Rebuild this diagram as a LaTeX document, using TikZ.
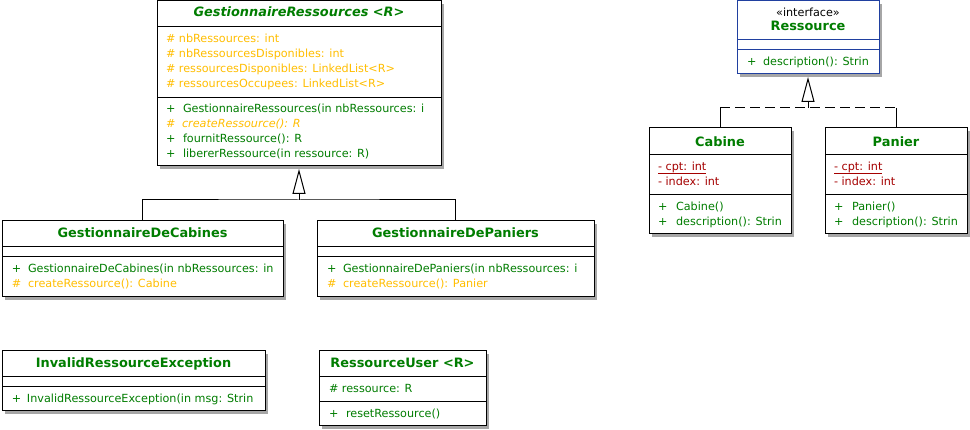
\documentclass[tikz,border=0pt]{standalone}
\usepackage{fontspec}
\setmainfont{DejaVu Sans}
\usetikzlibrary{arrows.meta,shadows}
\definecolor{umlgreen}{RGB}{0,125,0}
\definecolor{umlorange}{RGB}{255,190,0}
\definecolor{umlred}{RGB}{165,0,0}
\definecolor{umlblue}{RGB}{32,64,160}
\newcommand{\umlbodyfont}{\fontsize{11.2}{13}\selectfont}
\newcommand{\umltitlefont}{\fontsize{12.9}{15}\selectfont\bfseries}
\begin{document}
\begin{tikzpicture}[x=1pt,y=-1pt,
  umlbox/.style={draw=black, line width=1pt, fill=white, inner sep=0pt, outer sep=0pt,
    drop shadow={shadow xshift=3pt, shadow yshift=-3pt, fill=black!35, opacity=1}},
  txt/.style={anchor=base west, inner sep=0pt, outer sep=0pt, font=\umlbodyfont},
  ttl/.style={anchor=base, inner sep=0pt, outer sep=0pt, font=\umltitlefont, text=umlgreen},
  pub/.style={txt, text=umlgreen},
  prot/.style={txt, text=umlorange},
  priv/.style={txt, text=umlred},
  sepline/.style={line width=1pt},
  conn/.style={line width=1pt},
  gentip/.style={-{Triangle[open, length=25pt, width=13pt, line width=1pt]}, shorten >=3pt},
]
\useasboundingbox (0,0) rectangle (970,430);

% ---------- boxes ----------
\node[umlbox, minimum width=284pt, minimum height=165pt] (gr) at (299,83.5) {};
\node[umlbox, minimum width=281pt, minimum height=76pt] (gdc) at (142.5,259) {};
\node[umlbox, minimum width=277pt, minimum height=76pt] (gdp) at (455.5,259) {};
\node[umlbox, draw=umlblue, minimum width=142pt, minimum height=73pt] (res) at (808,37.5) {};
\node[umlbox, minimum width=142pt, minimum height=106pt] (cab) at (720,181) {};
\node[umlbox, minimum width=142pt, minimum height=106pt] (pan) at (896,181) {};
\node[umlbox, minimum width=263pt, minimum height=60pt] (ire) at (133.5,381) {};
\node[umlbox, minimum width=167pt, minimum height=75pt] (ru) at (402.5,388.5) {};

% ---------- compartments ----------
\draw[sepline] (gr.west |- 0,27) -- (gr.east |- 0,27);
\draw[sepline] (gr.west |- 0,98) -- (gr.east |- 0,98);
\draw[sepline] (gdc.west |- 0,247) -- (gdc.east |- 0,247);
\draw[sepline] (gdc.west |- 0,257) -- (gdc.east |- 0,257);
\draw[sepline] (gdp.west |- 0,247) -- (gdp.east |- 0,247);
\draw[sepline] (gdp.west |- 0,257) -- (gdp.east |- 0,257);
\draw[sepline, umlblue] (res.west |- 0,40) -- (res.east |- 0,40);
\draw[sepline, umlblue] (res.west |- 0,50) -- (res.east |- 0,50);
\draw[sepline] (cab.west |- 0,155) -- (cab.east |- 0,155);
\draw[sepline] (cab.west |- 0,195) -- (cab.east |- 0,195);
\draw[sepline] (pan.west |- 0,155) -- (pan.east |- 0,155);
\draw[sepline] (pan.west |- 0,195) -- (pan.east |- 0,195);
\draw[sepline] (ire.west |- 0,377) -- (ire.east |- 0,377);
\draw[sepline] (ire.west |- 0,387) -- (ire.east |- 0,387);
\draw[sepline] (ru.west |- 0,377) -- (ru.east |- 0,377);
\draw[sepline] (ru.west |- 0,402) -- (ru.east |- 0,402);

% ---------- GestionnaireRessources ----------
\node[ttl, font=\umltitlefont\itshape] (grt) at (299,17) {GestionnaireRessources <R>};
\node[prot] (gra1) at (166,43) {\# nbRessources: int};
\node[prot] (gra2) at (166,58) {\# nbRessourcesDisponibles: int};
\node[prot] (gra3) at (166,73) {\# ressourcesDisponibles: LinkedList<R>};
\node[prot] (gra4) at (166,88) {\# ressourcesOccupees: LinkedList<R>};
\node[pub] (grm1v) at (166,113) {+};
\node[pub] (grm1) at (183,113) {GestionnaireRessources(in nbRessources: i};
\node[prot] (grm2v) at (166,128) {\#};
\node[prot, font=\umlbodyfont\itshape] (grm2) at (182,128) {createRessource(): R};
\node[pub] (grm3v) at (166,143) {+};
\node[pub] (grm3) at (183,143) {fournitRessource(): R};
\node[pub] (grm4v) at (166,158) {+};
\node[pub] (grm4) at (183,158) {libererRessource(in ressource: R)};

% ---------- GestionnaireDeCabines ----------
\node[ttl] (gdct) at (142.5,238) {GestionnaireDeCabines};
\node[pub] (gdcm1v) at (12,273) {+};
\begin{scope}
\clip (gdc.west |- 0,258) rectangle ([xshift=-4pt]gdc.east |- 0,296);
\node[pub] (gdcm1) at (28,273) {GestionnaireDeCabines(in nbRessources: in};
\end{scope}
\node[prot] (gdcm2v) at (12,288) {\#};
\node[prot] (gdcm2) at (28,288) {createRessource(): Cabine};

% ---------- GestionnaireDePaniers ----------
\node[ttl] (gdpt) at (455.5,238) {GestionnaireDePaniers};
\node[pub] (gdpm1v) at (327,273) {+};
\node[pub] (gdpm1) at (343,273) {GestionnaireDePaniers(in nbRessources: i};
\node[prot] (gdpm2v) at (327,288) {\#};
\node[prot] (gdpm2) at (343,288) {createRessource(): Panier};

% ---------- Ressource ----------
\node[anchor=base, inner sep=0pt, font=\umlbodyfont] (rest0) at (808,16.5) {«interface»};
\node[ttl] (rest) at (808,31) {Ressource};
\node[pub] (resm1v) at (747,66) {+};
\node[pub] (resm1) at (763,66) {description(): Strin};

% ---------- Cabine ----------
\node[ttl] (cabt) at (720,147) {Cabine};
\node[priv] (caba1) at (658,171) {- cpt: int};
\draw[umlred, line width=0.8pt] ([yshift=-2pt]caba1.base west) -- ([yshift=-2pt]caba1.base east);
\node[priv] (caba2) at (658,186) {- index: int};
\node[pub] (cabm1v) at (658,211) {+};
\node[pub] (cabm1) at (676,211) {Cabine()};
\node[pub] (cabm2v) at (658,226) {+};
\node[pub] (cabm2) at (676,226) {description(): Strin};

% ---------- Panier ----------
\node[ttl] (pant) at (896,147) {Panier};
\node[priv] (pana1) at (834,171) {- cpt: int};
\draw[umlred, line width=0.8pt] ([yshift=-2pt]pana1.base west) -- ([yshift=-2pt]pana1.base east);
\node[priv] (pana2) at (834,186) {- index: int};
\node[pub] (panm1v) at (834,211) {+};
\node[pub] (panm1) at (852,211) {Panier()};
\node[pub] (panm2v) at (834,226) {+};
\node[pub] (panm2) at (852,226) {description(): Strin};

% ---------- InvalidRessourceException ----------
\node[ttl] (iret) at (133.5,368) {InvalidRessourceException};
\node[pub] (irem1v) at (12,403) {+};
\node[pub] (irem1) at (27,403) {InvalidRessourceException(in msg: Strin};

% ---------- RessourceUser ----------
\node[ttl] (rut) at (402.5,368) {RessourceUser <R>};
\node[pub] (rua1) at (329,393) {\# ressource: R};
\node[pub] (rum1v) at (329,418) {+};
\node[pub] (rum1) at (346,418) {resetRessource()};

% ---------- generalization ----------
\coordinate (gj) at (299,200);
\draw[conn] (gdc.north) |- (gj) -| (gdp.north);
\draw[conn, gentip] (gj) -- (gr.south);

% ---------- realization ----------
\coordinate (rj) at (808,108);
\draw[conn] (cab.north) -- (cab.north |- rj);
\draw[conn, dash pattern=on 10pt off 5pt] (cab.north |- rj) -- (pan.north |- rj);
\draw[conn] (pan.north |- rj) -- (pan.north);
\draw[conn, gentip] (rj) -- (res.south);
\end{tikzpicture}
\end{document}
